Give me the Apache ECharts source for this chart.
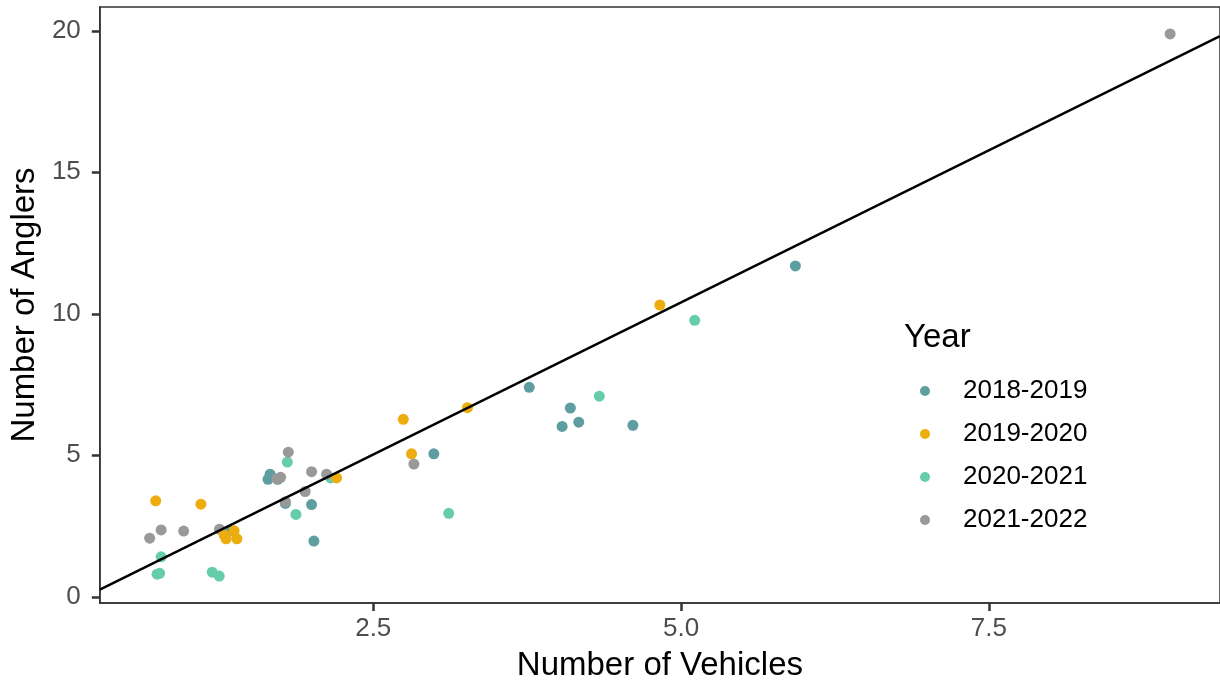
<!DOCTYPE html>
<html>
<head>
<meta charset="utf-8">
<script src="https://cdn.jsdelivr.net/npm/echarts@6/dist/echarts.min.js"></script>
<style>
html,body{margin:0;padding:0;background:#fff;}
#chart{width:1220px;height:687px;}
</style>
</head>
<body>
<div id="chart"></div>
<script>
// ---- data ----
const seriesNames = ['2018-2019', '2019-2020', '2020-2021', '2021-2022'];
const vehicles2018 = [1.662, 1.645, 1.724, 1.786, 1.999, 2.018, 2.992, 3.767, 4.101, 4.034, 4.169, 4.609, 5.929, 1.331];
const anglers2018  = [4.33, 4.15, 4.15, 3.30, 3.26, 1.97, 5.05, 7.40, 6.67, 6.02, 6.17, 6.06, 11.69, 2.33];
const vehicles2019 = [0.733, 1.100, 1.370, 1.289, 1.305, 1.392, 2.202, 2.744, 2.811, 3.265, 4.828];
const anglers2019  = [3.39, 3.27, 2.33, 2.18, 2.05, 2.05, 4.20, 6.27, 5.05, 6.68, 10.31];
const vehicles2020 = [0.777, 0.744, 0.765, 1.192, 1.249, 1.802, 1.872, 2.153, 3.113, 4.336, 5.111];
const anglers2020  = [1.41, 0.80, 0.83, 0.87, 0.73, 4.76, 2.91, 4.20, 2.95, 7.09, 9.77];
const vehicles2021 = [0.684, 0.777, 0.960, 1.251, 1.716, 1.748, 1.810, 1.786, 1.947, 1.999, 2.121, 2.830, 8.973];
const anglers2021  = [2.07, 2.36, 2.32, 2.39, 4.17, 4.22, 5.11, 3.36, 3.72, 4.42, 4.33, 4.69, 19.89];
const fitIntercept = -0.35;
const fitSlope = 2.15;
const xTicks = [2.5, 5.0, 7.5];
const yTicks = [0, 5, 10, 15, 20];
const xRange = [0.279, 9.378];
const yRange = [-0.22, 20.84];
const colors = ['#5F9EA0', '#EEAD0E', '#66CDAA', '#999999'];

const pairs = (xs, ys) => xs.map((x, i) => [x, ys[i]]);
const lineData = xRange.map(x => [x, fitIntercept + fitSlope * x]);

const FONT = "'Liberation Sans', Arial, sans-serif";
const chart = echarts.init(document.getElementById('chart'), null, {renderer: 'canvas'});

function scatter(idx, data, z) {
  return {
    name: seriesNames[idx], type: 'scatter', data: data, symbolSize: 11, z: z,
    itemStyle: {color: colors[idx], opacity: 1}, animation: false
  };
}

chart.setOption({
  backgroundColor: '#ffffff',
  animation: false,
  title: {
    text: 'Year', left: 904, top: 321, padding: 0,
    textStyle: {fontFamily: FONT, fontSize: 33, fontWeight: 'normal', color: '#000'}
  },
  legend: {
    orient: 'vertical', left: 920, top: 376, padding: 0,
    itemWidth: 10, itemHeight: 10, itemGap: 13, icon: 'circle',
    data: seriesNames,
    textStyle: {fontFamily: FONT, fontSize: 26, color: '#000', lineHeight: 30, padding: [0, 0, 0, 28]}
  },
  grid: {left: 99, right: -4, top: 7, bottom: 84, show: true, borderColor: '#333', borderWidth: 1.5, backgroundColor: 'transparent'},
  xAxis: {
    type: 'value', min: xRange[0], max: xRange[1],
    name: 'Number of Vehicles', nameLocation: 'middle', nameGap: 46,
    nameTextStyle: {fontFamily: FONT, fontSize: 33, color: '#000'},
    axisLine: {show: true, onZero: false, lineStyle: {color: '#333', width: 1.5}},
    axisTick: {show: true, length: 8, lineStyle: {color: '#333', width: 2.5}, customValues: xTicks},
    axisLabel: {fontFamily: FONT, fontSize: 26, color: '#4D4D4D', margin: 13, customValues: xTicks,
                formatter: v => Number(v).toFixed(1)},
    splitLine: {show: false}
  },
  yAxis: {
    type: 'value', min: yRange[0], max: yRange[1],
    name: 'Number of Anglers', nameLocation: 'middle', nameGap: 55, nameRotate: 90,
    nameTextStyle: {fontFamily: FONT, fontSize: 33, color: '#000'},
    axisLine: {show: true, onZero: false, lineStyle: {color: '#333', width: 1.5}},
    axisTick: {show: true, length: 8, lineStyle: {color: '#333', width: 2.5}, customValues: yTicks},
    axisLabel: {fontFamily: FONT, fontSize: 26, color: '#4D4D4D', margin: 19, customValues: yTicks,
                formatter: v => String(Math.round(v))},
    splitLine: {show: false}
  },
  series: [
    scatter(0, pairs(vehicles2018, anglers2018), 2),
    scatter(2, pairs(vehicles2020, anglers2020), 3),
    scatter(3, pairs(vehicles2021, anglers2021), 4),
    scatter(1, pairs(vehicles2019, anglers2019), 5),
    {
      type: 'line', data: lineData, showSymbol: false, symbol: 'none', z: 10,
      lineStyle: {color: '#000', width: 2.5}, silent: true, animation: false
    }
  ]
});
</script>
</body>
</html>
